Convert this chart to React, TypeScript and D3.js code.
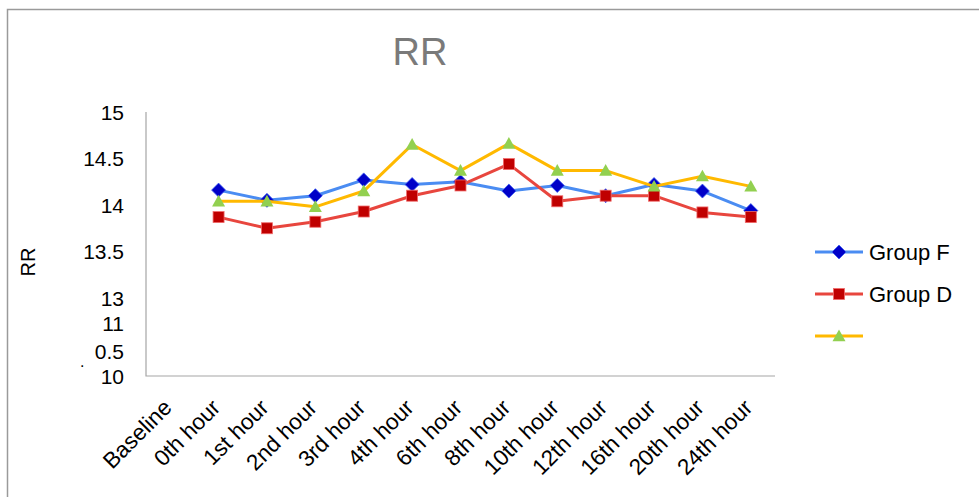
import React from "react";
import * as d3 from "d3";

const categories = [
  "Baseline", "0th hour", "1st hour", "2nd hour", "3rd hour", "4th hour",
  "6th hour", "8th hour", "10th hour", "12th hour", "16th hour", "20th hour", "24th hour",
];

// null = no reading at that time point
const groupF: (number | null)[] = [null, 14.16, 14.05, 14.1, 14.27, 14.22, 14.25, 14.15, 14.21, 14.1, 14.22, 14.15, 13.94];
const groupD: (number | null)[] = [null, 13.87, 13.75, 13.82, 13.93, 14.1, 14.21, 14.44, 14.04, 14.1, 14.1, 13.92, 13.87];
const groupThird: (number | null)[] = [null, 14.04, 14.04, 13.98, 14.15, 14.65, 14.37, 14.66, 14.37, 14.37, 14.2, 14.31, 14.2];

// axis has a compressed lower section below 13
const yTickValues = [15, 14.5, 14, 13.5, 13, 11, 10.5, 10];
const yTickLabels = ["15", "14.5", "14", "13.5", "13", "11", "0.5", "10"];

const seriesNames = ["Group F", "Group D", ""];

const W = 979;
const H = 497;
const FONT = "'Liberation Sans', Arial, sans-serif";

export default function App() {
  const plotLeft = 146;
  const plotRight = 775;
  const plotTop = 112;
  const plotBottom = 376;

  const x = d3.scaleBand<string>().domain(categories).range([plotLeft, plotRight]);
  const cx = (c: string) => (x(c) as number) + x.bandwidth() / 2;

  const y = d3
    .scaleLinear()
    .domain([10, 10.5, 11, 13, 15])
    .range([plotBottom, 351, 323, 298, plotTop]);

  const line = d3
    .line<[string, number | null]>()
    .defined((d) => d[1] != null)
    .x((d) => cx(d[0]))
    .y((d) => y(d[1] as number));

  const series = [
    { name: seriesNames[0], values: groupF, stroke: "#4a8cf2", fill: "#0000c8", shape: "diamond" },
    { name: seriesNames[1], values: groupD, stroke: "#e8463e", fill: "#c00000", shape: "square" },
    { name: seriesNames[2], values: groupThird, stroke: "#ffb900", fill: "#92d050", shape: "triangle" },
  ];

  const marker = (shape: string, px: number, py: number, fill: string, key: string) => {
    if (shape === "diamond") {
      const r = 7;
      return (
        <path key={key} d={`M${px},${py - r}L${px + r},${py}L${px},${py + r}L${px - r},${py}Z`}
          fill={fill} stroke="#3a5cf0" strokeWidth={0.8} />
      );
    }
    if (shape === "square") {
      const s = 5.5;
      return (
        <rect key={key} x={px - s} y={py - s} width={2 * s} height={2 * s}
          fill={fill} stroke="#f06a6a" strokeWidth={0.8} />
      );
    }
    const t = 6.5;
    return (
      <path key={key} d={`M${px},${py - t}L${px + t},${py + t * 0.8}L${px - t},${py + t * 0.8}Z`}
        fill={fill} />
    );
  };

  const legendY = [252, 294, 336];

  return (
    <svg width={W} height={H} style={{ position: "fixed", left: 0, top: 0, background: "#fff" }}
      fontFamily={FONT}>
      <rect x={0} y={0} width={W} height={H} fill="#fff" />
      {/* outer frame */}
      <path d={`M7.5,${H}V9.5H${W}`} fill="none" stroke="#9a9a9a" strokeWidth={1.5} />

      <text x={420} y={65} textAnchor="middle" fontSize={38} fill="#7a7a7a">RR</text>

      {/* axes */}
      <path d={`M${plotLeft},${plotTop}V${plotBottom}H${plotRight}`} fill="none" stroke="#a6a6a6" strokeWidth={1.2} />

      {yTickValues.map((v, i) => (
        <text key={v} x={124} y={y(v)} dy="0.36em" textAnchor="end" fontSize={21} fill="#000">
          {yTickLabels[i]}
        </text>
      ))}
      <text x={80} y={367} fontSize={16} fill="#000">.</text>

      <text transform={`translate(35,262) rotate(-90)`} textAnchor="middle" fontSize={20} fill="#000">RR</text>

      {categories.map((c) => (
        <text key={c} transform={`translate(${cx(c) + 3},${plotBottom + 33}) rotate(-45)`}
          textAnchor="end" fontSize={22.5} fill="#000">
          {c}
        </text>
      ))}

      {series.map((s, si) => (
        <g key={si}>
          <path d={line(categories.map((c, i) => [c, s.values[i]]) as [string, number | null][]) || ""}
            fill="none" stroke={s.stroke} strokeWidth={3} strokeLinejoin="round" />
          {categories.map((c, i) =>
            s.values[i] == null ? null : marker(s.shape, cx(c), y(s.values[i] as number), s.fill, `${si}-${i}`)
          )}
        </g>
      ))}

      {series.map((s, si) => (
        <g key={`lg${si}`}>
          <line x1={815} x2={863} y1={legendY[si]} y2={legendY[si]} stroke={s.stroke} strokeWidth={3} />
          {marker(s.shape, 839, legendY[si], s.fill, `lgm${si}`)}
          <text x={869} y={legendY[si]} dy="0.36em" fontSize={22} fill="#000">{s.name}</text>
        </g>
      ))}
    </svg>
  );
}
